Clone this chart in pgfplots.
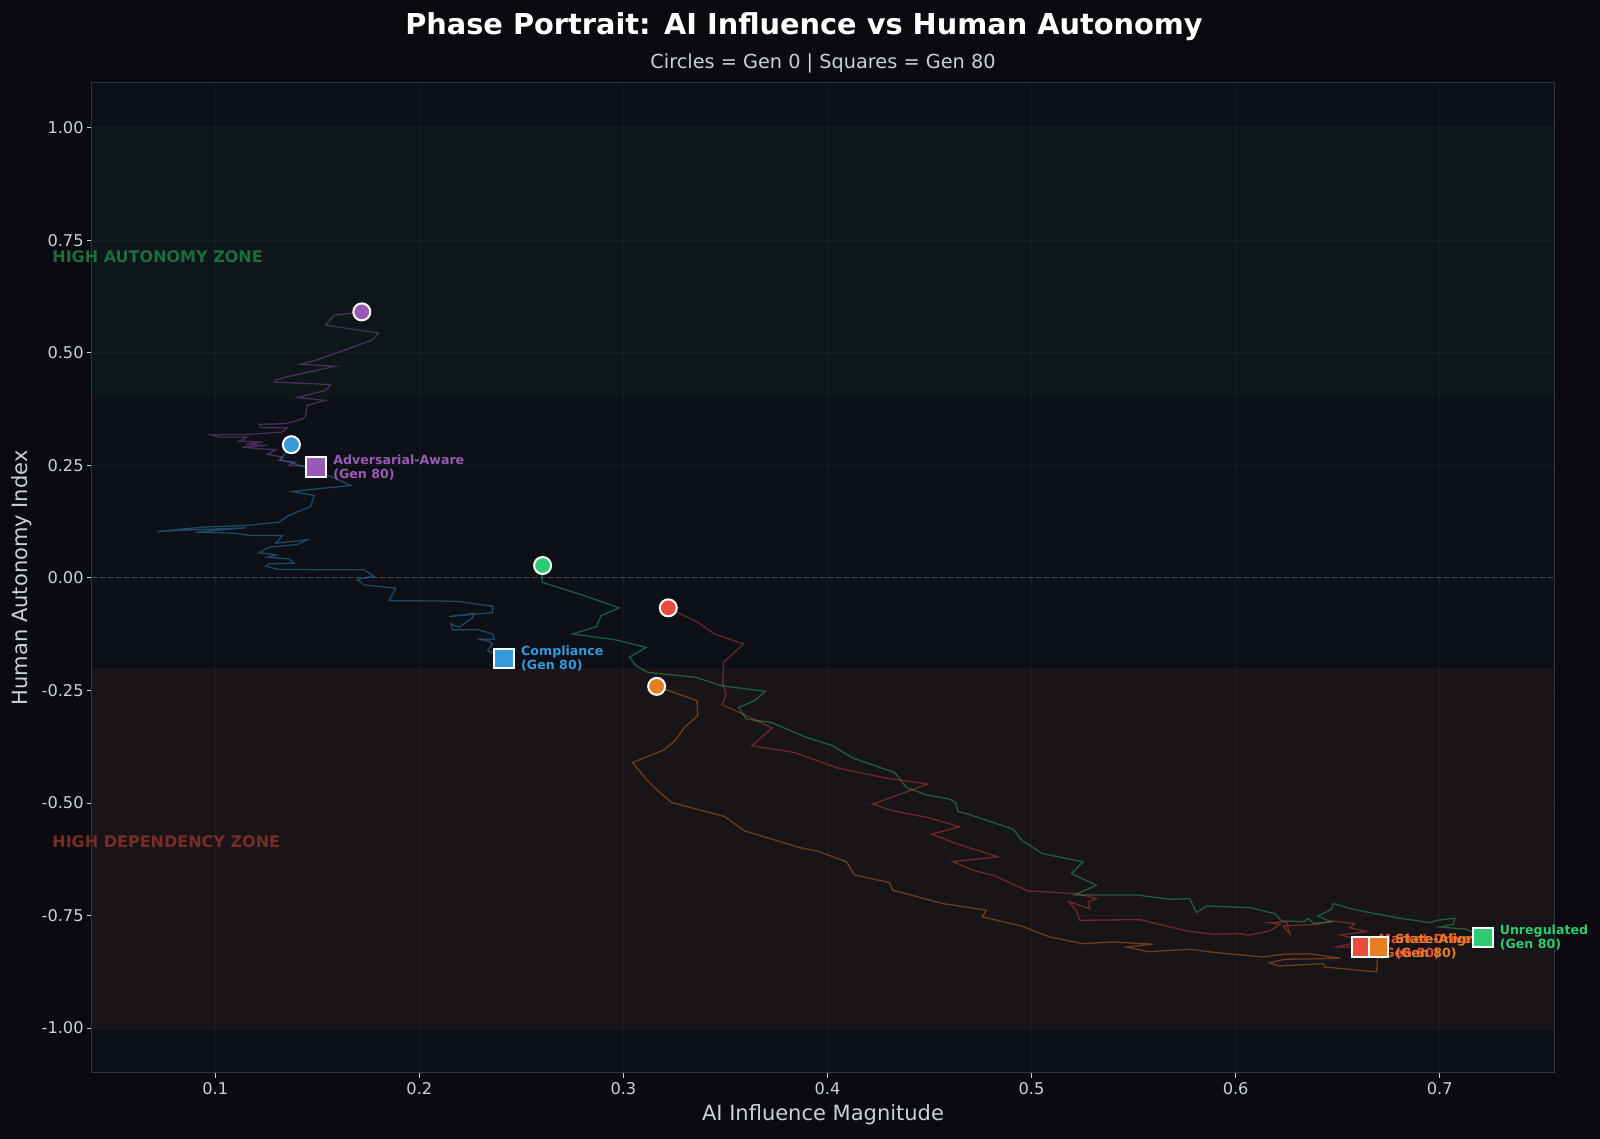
\documentclass[border=0pt]{standalone}
\usepackage{pgfplots}
\pgfplotsset{compat=1.18}
\usepackage{fontspec}
\setmainfont{DejaVu Sans}
\definecolor{figbg}{HTML}{0A0A0F}
\definecolor{axbg}{HTML}{0D1117}
\definecolor{spine}{HTML}{30363D}
\definecolor{txt}{HTML}{C9D1D9}
\definecolor{cpurple}{HTML}{9B59B6}
\definecolor{cblue}{HTML}{3498DB}
\definecolor{cgreen}{HTML}{2ECC71}
\definecolor{cred}{HTML}{E74C3C}
\definecolor{corange}{HTML}{E67E22}
\definecolor{zgreen}{RGB}{29,108,64}
\definecolor{zred}{RGB}{121,44,37}
\begin{document}
\begin{tikzpicture}
\path[use as bounding box, fill=figbg] (0,0) rectangle (800pt,569.5pt);
\begin{axis}[
  at={(45.9pt,33pt)}, anchor=south west,
  width=731.1pt, height=495.15pt, scale only axis,
  xmin=0.0395, xmax=0.756, ymin=-1.1, ymax=1.1,
  clip=false,
  axis background/.style={fill=axbg},
  axis line style={spine, line width=0.5pt},
  xtick={0.1,0.2,0.3,0.4,0.5,0.6,0.7},
  ytick={-1,-0.75,-0.5,-0.25,0,0.25,0.5,0.75,1},
  xtick pos=bottom, ytick pos=left,
  tick align=outside, major tick length=2.4pt,
  tick style={txt, line width=0.4pt},
  grid=major, major grid style={white, opacity=0.035, line width=0.4pt},
  /pgf/number format/assume math mode=true,
  xticklabel style={font=\fontsize{8.1}{9.5}\selectfont, text=txt, inner sep=2pt, /pgf/number format/.cd, fixed, fixed zerofill, precision=1},
  yticklabel style={font=\fontsize{8.1}{9.5}\selectfont, text=txt, inner sep=2pt, xshift=0.5pt, /pgf/number format/.cd, fixed, fixed zerofill, precision=2},
]
% zones
\addplot[draw=none, fill=cgreen, fill opacity=0.03, forget plot] coordinates {(0.0395,0.4) (0.756,0.4) (0.756,1.0) (0.0395,1.0)};
\addplot[draw=none, fill=cred, fill opacity=0.05, forget plot] coordinates {(0.0395,-1.0) (0.756,-1.0) (0.756,-0.2) (0.0395,-0.2)};
% zero line
\addplot[white, opacity=0.22, line width=0.5pt, dash pattern=on 2.5pt off 1.5pt, forget plot] coordinates {(0.0395,0) (0.756,0)};
% trajectories
\addplot[cpurple, opacity=0.4, line width=0.65pt] coordinates {
(0.1718,0.5908) (0.1582,0.5834) (0.1541,0.5612) (0.1800,0.5440) (0.1767,0.5278) (0.1492,0.4833) (0.1419,0.4744) (0.1590,0.4700) (0.1361,0.4477) (0.1304,0.4404) (0.1288,0.4350) (0.1566,0.4293) (0.1541,0.4166) (0.1402,0.4003) (0.1541,0.3943) (0.1451,0.3832) (0.1443,0.3610) (0.1430,0.3536) (0.1345,0.3425) (0.1214,0.3410) (0.1228,0.3336) (0.1353,0.3336) (0.1329,0.3239) (0.1165,0.3187) (0.0977,0.3180) (0.1018,0.3127) (0.1157,0.3127) (0.1116,0.3038) (0.1231,0.3016) (0.1149,0.2965) (0.1255,0.2943) (0.1132,0.2905) (0.1214,0.2869) (0.1296,0.2847) (0.1255,0.2742) (0.1329,0.2682) (0.1312,0.2609) (0.1394,0.2571) (0.1361,0.2498) (0.1443,0.2476) (0.1495,0.2460)};
\addplot[cblue, opacity=0.4, line width=0.65pt] coordinates {
(0.1373,0.2958) (0.1320,0.2624) (0.1443,0.2460) (0.1574,0.2238) (0.1664,0.2053) (0.1378,0.1920) (0.1484,0.1830) (0.1468,0.1586) (0.1361,0.1386) (0.1312,0.1237) (0.1149,0.1163) (0.0936,0.1126) (0.0716,0.1030) (0.0887,0.1067) (0.1149,0.1112) (0.0904,0.1015) (0.1083,0.0993) (0.1181,0.0940) (0.1329,0.0940) (0.1296,0.0770) (0.1451,0.0845) (0.1402,0.0740) (0.1263,0.0680) (0.1214,0.0556) (0.1296,0.0511) (0.1255,0.0458) (0.1361,0.0422) (0.1386,0.0325) (0.1263,0.0311) (0.1247,0.0258) (0.1312,0.0185) (0.1729,0.0178) (0.1778,0.0036) (0.1696,-0.0038) (0.1729,-0.0156) (0.1885,-0.0231) (0.1852,-0.0505) (0.2187,-0.0520) (0.2359,-0.0632) (0.2359,-0.0772) (0.2146,-0.0860) (0.2269,-0.0787) (0.2260,-0.0890) (0.2195,-0.1098) (0.2154,-0.1023) (0.2162,-0.1157) (0.2285,-0.1150) (0.2359,-0.1246) (0.2367,-0.1365) (0.2285,-0.1357) (0.2342,-0.1410) (0.2359,-0.1468) (0.2334,-0.1617) (0.2416,-0.1788)};
\addplot[cgreen, opacity=0.4, line width=0.65pt] coordinates {
(0.2604,0.0274) (0.2601,-0.0098) (0.2808,-0.0394) (0.2980,-0.0667) (0.2890,-0.0839) (0.2869,-0.1083) (0.2751,-0.1246) (0.2964,-0.1379) (0.3111,-0.1544) (0.3029,-0.1766) (0.3062,-0.1951) (0.3119,-0.2100) (0.3356,-0.2211) (0.3479,-0.2395) (0.3696,-0.2522) (0.3642,-0.2729) (0.3565,-0.2878) (0.3601,-0.3136) (0.3724,-0.3212) (0.3896,-0.3545) (0.4026,-0.3730) (0.4124,-0.4004) (0.4329,-0.4324) (0.4386,-0.4657) (0.4484,-0.4820) (0.4598,-0.4916) (0.4628,-0.4991) (0.4639,-0.5191) (0.4680,-0.5236) (0.4909,-0.5583) (0.4955,-0.5843) (0.5053,-0.6125) (0.5252,-0.6310) (0.5195,-0.6570) (0.5318,-0.6828) (0.5211,-0.7044) (0.5514,-0.7044) (0.5677,-0.7140) (0.5775,-0.7126) (0.5808,-0.7438) (0.5857,-0.7289) (0.6070,-0.7327) (0.6192,-0.7460) (0.6225,-0.7622) (0.6339,-0.7638) (0.6356,-0.7562) (0.6380,-0.7674) (0.6470,-0.7645) (0.6405,-0.7511) (0.6470,-0.7362) (0.6478,-0.7237) (0.6576,-0.7362) (0.6658,-0.7438) (0.6805,-0.7562) (0.6953,-0.7660) (0.6985,-0.7607) (0.7075,-0.7562) (0.7067,-0.7696) (0.7001,-0.7756) (0.7132,-0.7807) (0.7211,-0.7993)};
\addplot[cred, opacity=0.4, line width=0.65pt] coordinates {
(0.3220,-0.0667) (0.3364,-0.0987) (0.3446,-0.1246) (0.3589,-0.1468) (0.3490,-0.1877) (0.3487,-0.2358) (0.3503,-0.2580) (0.3484,-0.2818) (0.3568,-0.2989) (0.3729,-0.3336) (0.3629,-0.3730) (0.3838,-0.3879) (0.4050,-0.4226) (0.4288,-0.4449) (0.4492,-0.4582) (0.4222,-0.5027) (0.4320,-0.5176) (0.4492,-0.5324) (0.4647,-0.5532) (0.4509,-0.5694) (0.4631,-0.5903) (0.4835,-0.6199) (0.4614,-0.6303) (0.4713,-0.6495) (0.4819,-0.6621) (0.4982,-0.6955) (0.5220,-0.7015) (0.5318,-0.7126) (0.5277,-0.7193) (0.5285,-0.7349) (0.5183,-0.7193) (0.5220,-0.7400) (0.5236,-0.7607) (0.5530,-0.7593) (0.5759,-0.7845) (0.5889,-0.7918) (0.6020,-0.7905) (0.6061,-0.7940) (0.6168,-0.7845) (0.6217,-0.7696) (0.6168,-0.7660) (0.6250,-0.7638) (0.6266,-0.7918) (0.6233,-0.7733) (0.6397,-0.7696) (0.6478,-0.7622) (0.6584,-0.7682) (0.6560,-0.7771) (0.6642,-0.7860) (0.6511,-0.7934) (0.6625,-0.8067) (0.6495,-0.8200) (0.6617,-0.8200)};
\addplot[corange, opacity=0.4, line width=0.65pt] coordinates {
(0.3163,-0.2411) (0.3361,-0.2729) (0.3364,-0.3063) (0.3299,-0.3323) (0.3255,-0.3603) (0.3200,-0.3819) (0.3045,-0.4101) (0.3111,-0.4470) (0.3160,-0.4693) (0.3236,-0.4991) (0.3495,-0.5302) (0.3593,-0.5620) (0.3863,-0.5992) (0.3945,-0.6065) (0.4092,-0.6303) (0.4132,-0.6600) (0.4304,-0.6770) (0.4320,-0.6940) (0.4566,-0.7237) (0.4778,-0.7384) (0.4759,-0.7533) (0.4950,-0.7733) (0.5089,-0.7978) (0.5252,-0.8127) (0.5399,-0.8089) (0.5595,-0.8140) (0.5465,-0.8200) (0.5571,-0.8305) (0.5775,-0.8252) (0.5906,-0.8327) (0.6135,-0.8423) (0.6233,-0.8363) (0.6364,-0.8350) (0.6511,-0.8452) (0.6241,-0.8474) (0.6168,-0.8550) (0.6209,-0.8623) (0.6429,-0.8572) (0.6437,-0.8645) (0.6642,-0.8734) (0.6691,-0.8750) (0.6699,-0.8200)};
% start circles
\addplot[only marks, mark=*, mark size=4.25pt, mark options={fill=cpurple, draw=white, line width=1pt}] coordinates {(0.1718,0.5908)};
\addplot[only marks, mark=*, mark size=4.25pt, mark options={fill=cblue, draw=white, line width=1pt}] coordinates {(0.1373,0.2958)};
\addplot[only marks, mark=*, mark size=4.25pt, mark options={fill=cgreen, draw=white, line width=1pt}] coordinates {(0.2604,0.0274)};
\addplot[only marks, mark=*, mark size=4.25pt, mark options={fill=cred, draw=white, line width=1pt}] coordinates {(0.3220,-0.0667)};
\addplot[only marks, mark=*, mark size=4.25pt, mark options={fill=corange, draw=white, line width=1pt}] coordinates {(0.3163,-0.2411)};
% zone labels
\node[anchor=base west, inner sep=0pt, font=\fontsize{8}{9.6}\selectfont\bfseries, text=zgreen] at (axis cs:0.0200,0.70) {HIGH AUTONOMY ZONE};
\node[anchor=base west, inner sep=0pt, font=\fontsize{8}{9.6}\selectfont\bfseries, text=zred] at (axis cs:0.0200,-0.60) {HIGH DEPENDENCY ZONE};
% end labels
\tikzset{endlbl/.style={anchor=west, xshift=8.3pt, inner sep=0pt, align=left, font=\fontsize{6.3}{7}\selectfont\bfseries}}
\node[endlbl, text=cpurple] at (axis cs:0.1495,0.2460) {Adversarial-Aware\\(Gen 80)};
\node[endlbl, text=cblue] at (axis cs:0.2416,-0.1788) {Compliance\\(Gen 80)};
\node[endlbl, text=cred] at (axis cs:0.6617,-0.8200) {Market-Driven\\(Gen 80)};
\node[endlbl, text=corange] at (axis cs:0.6699,-0.8200) {State-Aligned\\(Gen 80)};
\node[endlbl, text=cgreen] at (axis cs:0.7211,-0.7993) {Unregulated\\(Gen 80)};
% end squares
\addplot[only marks, mark=square*, mark size=4.9pt, mark options={fill=cpurple, draw=white, line width=1pt}] coordinates {(0.1495,0.2460)};
\addplot[only marks, mark=square*, mark size=4.9pt, mark options={fill=cblue, draw=white, line width=1pt}] coordinates {(0.2416,-0.1788)};
\addplot[only marks, mark=square*, mark size=4.9pt, mark options={fill=cred, draw=white, line width=1pt}] coordinates {(0.6617,-0.8200)};
\addplot[only marks, mark=square*, mark size=4.9pt, mark options={fill=corange, draw=white, line width=1pt}] coordinates {(0.6699,-0.8200)};
\addplot[only marks, mark=square*, mark size=4.9pt, mark options={fill=cgreen, draw=white, line width=1pt}] coordinates {(0.7211,-0.7993)};
\end{axis}
\node[font=\fontsize{14.4}{17}\selectfont\bfseries, text=white] at (402pt,556pt) {Phase Portrait: AI Influence vs Human Autonomy};
\node[font=\fontsize{9.65}{11.5}\selectfont, text=txt] at (411.5pt,538pt) {Circles = Gen 0 | Squares = Gen 80};
\node[font=\fontsize{10.5}{12.5}\selectfont, text=txt] at (411.5pt,12pt) {AI Influence Magnitude};
\node[font=\fontsize{10.5}{12.5}\selectfont, text=txt, rotate=90] at (10.7pt,280.6pt) {Human Autonomy Index};
\end{tikzpicture}
\end{document}
